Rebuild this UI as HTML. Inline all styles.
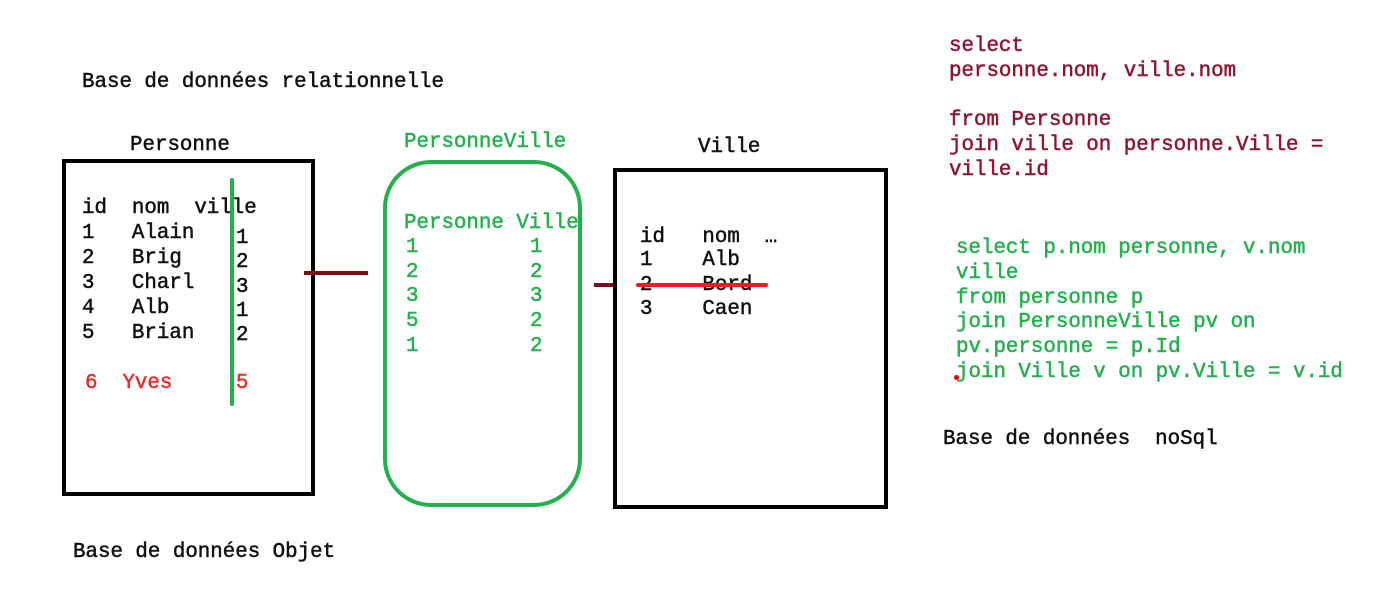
<!DOCTYPE html>
<html><head><meta charset="utf-8"><style>
body{margin:0;width:1376px;height:591px;background:#fff;position:relative;overflow:hidden;font-family:"Liberation Mono","DejaVu Sans Mono",monospace;font-size:20.8px;}
.t{position:absolute;line-height:25px;white-space:pre;color:#111;-webkit-text-stroke:0.5px currentColor;}
.r{color:#8e1530}.g{color:#22b14c}.e{color:#ee2a2a}
.b{position:absolute;box-sizing:border-box}
</style></head><body>
<div class="t" style="left:82px;top:70px">Base de données relationnelle</div>
<div class="t" style="left:73px;top:540px">Base de données Objet</div>
<div class="t" style="left:943px;top:427px">Base de données  noSql</div>

<div class="b" style="left:62px;top:159px;width:253px;height:337px;border:4px solid #000"></div>
<div class="t" style="left:130px;top:133px">Personne</div>
<div class="t" style="left:82px;top:196px">id  nom  ville</div>
<div class="t" style="left:82px;top:221px">1   Alain
2   Brig
3   Charl
4   Alb
5   Brian</div>
<div class="t" style="left:236px;top:227px;line-height:24.3px">1
2
3
1
2</div>
<div class="t e" style="left:85px;top:371px">6  Yves</div>
<div class="t e" style="left:236px;top:371px">5</div>
<div class="b" style="left:230px;top:178px;width:4px;height:228px;background:#22b14c;border-radius:2px"></div>

<div class="b" style="left:304px;top:271px;width:64px;height:4px;background:#7a0c1c"></div>
<div class="b" style="left:594px;top:283px;width:21px;height:4px;background:#7a0c1c"></div>

<div class="b" style="left:383px;top:160px;width:199px;height:347px;border:4px solid #22b14c;border-radius:48px"></div>
<div class="t g" style="left:404px;top:130px">PersonneVille</div>
<div class="t g" style="left:404px;top:211px">Personne Ville</div>
<div class="t g" style="left:406px;top:236px;line-height:24.7px">1
2
3
5
1</div>
<div class="t g" style="left:530px;top:236px;line-height:24.7px">1
2
3
2
2</div>

<div class="b" style="left:613px;top:168px;width:275px;height:341px;border:4px solid #000"></div>
<div class="t" style="left:698px;top:135px">Ville</div>
<div class="t" style="left:640px;top:225px">id   nom  …</div>
<div class="t" style="left:640px;top:249px;line-height:24.5px">1    Alb
2    Bord
3    Caen</div>
<div class="b" style="left:636px;top:283px;width:132px;height:4px;background:#ee1c24;border-radius:2px"></div>

<div class="t r" style="left:949px;top:35px;line-height:24.8px">select
personne.nom, ville.nom

from Personne
join ville on personne.Ville =
ville.id</div>
<div class="t g" style="left:956px;top:237px;line-height:24.8px">select p.nom personne, v.nom
ville
from personne p
join PersonneVille pv on
pv.personne = p.Id
join Ville v on pv.Ville = v.id</div>
<div class="b" style="left:954px;top:375px;width:5px;height:5px;background:#e00;border-radius:50%"></div>
</body></html>
